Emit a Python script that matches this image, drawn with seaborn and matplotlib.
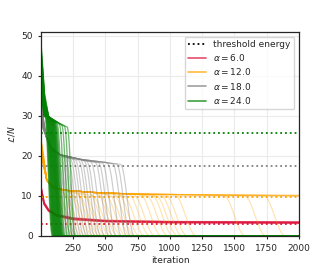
'''Energy per site vs iteration for several alpha values.'''
import pandas as pd
import matplotlib
matplotlib.use('Agg')
import matplotlib.pyplot as plt
from matplotlib.lines import Line2D
import seaborn as sns

# ---- data ----
alpha_labels = [6.0, 12.0, 18.0, 24.0]
thresholds = [3.1, 9.8, 17.6, 25.8]
colors = ['crimson', 'orange', 'gray', 'green']

# alpha = 6: runs never collapse, listed in full
red_x = [1, 25, 60, 120, 250, 500, 1000, 2000]
red_curves = [
    [12.2, 8.3, 6.5, 5.3, 4.4, 3.8, 3.55, 3.45],
    [11.8, 8.0, 6.3, 5.1, 4.3, 3.7, 3.45, 3.35],
    [12.0, 8.1, 6.4, 5.2, 4.2, 3.65, 3.4, 3.3],
    [11.6, 7.9, 6.2, 5.0, 4.1, 3.6, 3.3, 3.2],
    [12.4, 8.4, 6.6, 5.4, 4.5, 3.9, 3.6, 3.5],
]

# alpha = 12
orange_mid_x = 20
orange_path_x = [45, 80, 120, 200, 400, 700, 1200]
orange_path_y = [14.0, 12.6, 11.9, 11.4, 10.9, 10.5, 10.3]
orange_start = [22.0, 23.5, 21.0, 24.0, 22.5, 20.5, 23.0, 21.5, 24.2, 22.8,
                21.2, 23.8, 22.2, 20.8, 23.2, 21.8, 24.4, 22.6, 21.4, 23.6,
                22.4, 20.6, 23.4, 21.6, 22.9, 21.1, 23.9, 22.1, 20.9, 23.1,
                21.9, 22.7, 21.3, 23.7, 22.3, 20.7]
orange_mid = [18.5, 19.5, 17.8, 20.0, 18.9, 17.5, 19.2, 18.2, 20.2, 19.0,
              18.0, 19.8, 18.7, 17.6, 19.4, 18.4, 20.3, 18.8, 18.1, 19.6,
              18.6, 17.7, 19.3, 18.3, 19.1, 17.9, 19.9, 18.5, 17.7, 19.2,
              18.3, 18.9, 18.0, 19.7, 18.6, 17.6]
orange_drop = [170, 200, 230, 260, 290, 320, 345, 370, 395, 420,
               450, 480, 510, 540, 575, 610, 640, 680, 720, 760,
               800, 850, 900, 940, 975, 1010, 1050, 1120, 1500, 1660,
               1810, None, None, None, None, None]
orange_level = [12.0, 11.0, 11.7, 10.6, 11.5, 10.4, 11.3, 10.3, 11.2, 10.2,
                11.0, 10.1, 10.9, 10.0, 10.8, 10.2, 10.7, 10.5, 10.1, 10.6,
                10.3, 10.5, 10.1, 10.4, 10.0, 10.3, 10.2, 10.3, 10.15, 10.1,
                10.1, 10.2, 10.15, 10.1, 10.05, 10.0]

# alpha = 18
gray_mid_x = 15
gray_path_x = [40, 80, 150, 300, 500]
gray_path_y = [25.0, 22.0, 20.3, 19.2, 18.4]
gray_start = [36.0, 34.5, 33.0, 31.5, 35.2, 32.2, 30.5, 37.0, 33.8, 31.0,
              35.8, 32.8, 30.0, 34.0, 36.5, 31.8, 33.4, 35.0, 30.8, 32.5,
              34.8, 31.2, 36.2, 33.2, 30.2]
gray_mid = [30.0, 29.2, 28.4, 27.6, 29.6, 28.0, 27.0, 30.4, 28.8, 27.3,
            29.9, 28.3, 26.8, 29.0, 30.2, 27.8, 28.6, 29.4, 27.2, 28.1,
            29.3, 27.5, 30.1, 28.5, 26.9]
gray_drop = [120, 135, 150, 165, 180, 195, 210, 225, 240, 260,
             280, 300, 320, 345, 365, 390, 410, 440, 475, 500,
             530, 570, 610, 640, 670]
gray_level = [21.0, 20.6, 20.4, 20.2, 20.0, 19.9, 19.7, 19.6, 19.5, 19.4,
              19.3, 19.2, 19.0, 18.9, 18.8, 18.7, 18.6, 18.5, 18.4, 18.3,
              18.2, 18.1, 18.0, 17.95, 17.9]

# alpha = 24
green_mid_x = 25
green_path_x = [60, 130]
green_path_y = [29.8, 28.4]
green_start = [48.6, 47.5, 46.8, 46.0, 45.2, 44.5, 43.8, 43.0, 42.4, 41.8,
               41.2, 40.6, 40.0, 39.5, 39.0, 38.5, 38.0, 37.6, 44.0, 41.0,
               38.2, 46.4, 42.8, 39.8, 45.6, 43.4, 40.3, 37.8, 47.0, 44.8,
               42.0, 39.2, 37.5]
green_mid = [37.5, 36.8, 36.2, 35.6, 35.0, 34.5, 34.0, 33.5, 33.0, 32.6,
             32.2, 31.8, 31.4, 31.0, 30.7, 30.4, 30.1, 29.9, 34.2, 32.4,
             30.2, 35.8, 33.2, 31.2, 35.3, 33.7, 31.6, 30.0, 36.4, 34.8,
             32.8, 30.9, 29.8]
green_drop = [58, 62, 66, 70, 73, 76, 79, 82, 85, 88,
              91, 94, 97, 100, 103, 106, 109, 112, 115, 118,
              121, 124, 127, 130, 134, 138, 142, 148, 156, 174,
              193, 213, 234]
green_level = [31.0, 30.8, 30.5, 30.2, 30.0, 29.9, 29.8, 29.7, 29.6, 29.5,
               29.4, 29.4, 29.3, 29.2, 29.1, 29.0, 29.0, 28.9, 28.8, 28.8,
               28.7, 28.6, 28.6, 28.5, 28.4, 28.3, 28.3, 28.2, 28.1, 27.8,
               27.6, 27.4, 27.2]

# shape of the collapse to zero (offset in half-widths, fraction of plateau)
drop_t = [-1.0, -0.75, -0.5, -0.25, 0.0, 0.25, 0.5, 0.75, 1.0]
drop_frac = [1.0, 0.95, 0.84, 0.68, 0.5, 0.32, 0.16, 0.05, 0.0]
drop_width = [80, 50, 28]


def build_runs(mid_x, path_x, path_y, starts, mids, drops, levels, width, last=2000):
    rows = []
    for run, (s, m, d, lev) in enumerate(zip(starts, mids, drops, levels)):
        xs, ys = [1], [s]
        end = last if d is None else d - width
        if mid_x < end:
            xs.append(mid_x)
            ys.append(m)
        for px, py in zip(path_x, path_y):
            if px < end:
                xs.append(px)
                ys.append(py)
        if d is None:
            xs.append(last)
            ys.append(lev)
        else:
            for t, f in zip(drop_t, drop_frac):
                xs.append(d + t * width)
                ys.append(lev * f)
            xs.append(last)
            ys.append(0.0)
        rows += [(run, x, y) for x, y in zip(xs, ys)]
    return pd.DataFrame(rows, columns=['run', 'iteration', 'energy'])


red_df = pd.DataFrame([(r, x, y) for r, c in enumerate(red_curves) for x, y in zip(red_x, c)],
                      columns=['run', 'iteration', 'energy'])
frames = [
    red_df,
    build_runs(orange_mid_x, orange_path_x, orange_path_y, orange_start, orange_mid,
               orange_drop, orange_level, drop_width[0]),
    build_runs(gray_mid_x, gray_path_x, gray_path_y, gray_start, gray_mid,
               gray_drop, gray_level, drop_width[1]),
    build_runs(green_mid_x, green_path_x, green_path_y, green_start, green_mid,
               green_drop, green_level, drop_width[2]),
]
line_alpha = [0.6, 0.3, 0.4, 0.55]
line_width = [1.1, 0.85, 0.85, 0.95]

sns.set_style('whitegrid')
plt.rcParams.update({
    'axes.edgecolor': '.15',
    'axes.linewidth': 0.9,
    'grid.color': '.92',
    'grid.linewidth': 0.8,
    'xtick.bottom': True,
    'ytick.left': True,
    'xtick.major.size': 2.5,
    'ytick.major.size': 2.5,
    'xtick.major.width': 0.8,
    'ytick.major.width': 0.8,
    'xtick.color': '.15',
    'ytick.color': '.15',
    'font.size': 6.5,
    'axes.labelsize': 6.5,
    'xtick.labelsize': 6.5,
    'ytick.labelsize': 6.5,
    'legend.fontsize': 6.5,
})
plt.rcParams['font.family'] = ['DejaVu Sans']

fig, ax = plt.subplots(figsize=(3.32, 2.66), dpi=100)
fig.subplots_adjust(left=0.1235, right=0.9006, bottom=0.1128, top=0.8797)

for df, c, a, w, th in zip(frames, colors, line_alpha, line_width, thresholds):
    sns.lineplot(data=df, x='iteration', y='energy', units='run', estimator=None,
                 sort=False, color=c, alpha=a, lw=w, legend=False, ax=ax)
    ax.axhline(th, color=c, ls=':', lw=1.3)

ax.set_xlim(1, 2000)
ax.set_ylim(0, 51)
ax.set_xlabel('iteration', labelpad=2)
ax.set_ylabel(r'$\mathcal{L}/N$', labelpad=3)

handles = [Line2D([], [], color='black', ls=':', lw=1.3)]
handles += [Line2D([], [], color=c, lw=1.2, alpha=0.75) for c in colors]
labels = ['threshold energy'] + [rf'$\alpha = {a}$' for a in alpha_labels]
ax.legend(handles, labels, loc='upper right', frameon=True, handlelength=2.0,
          borderpad=0.4, labelspacing=0.35)

fig.savefig('out.png', dpi=100)
